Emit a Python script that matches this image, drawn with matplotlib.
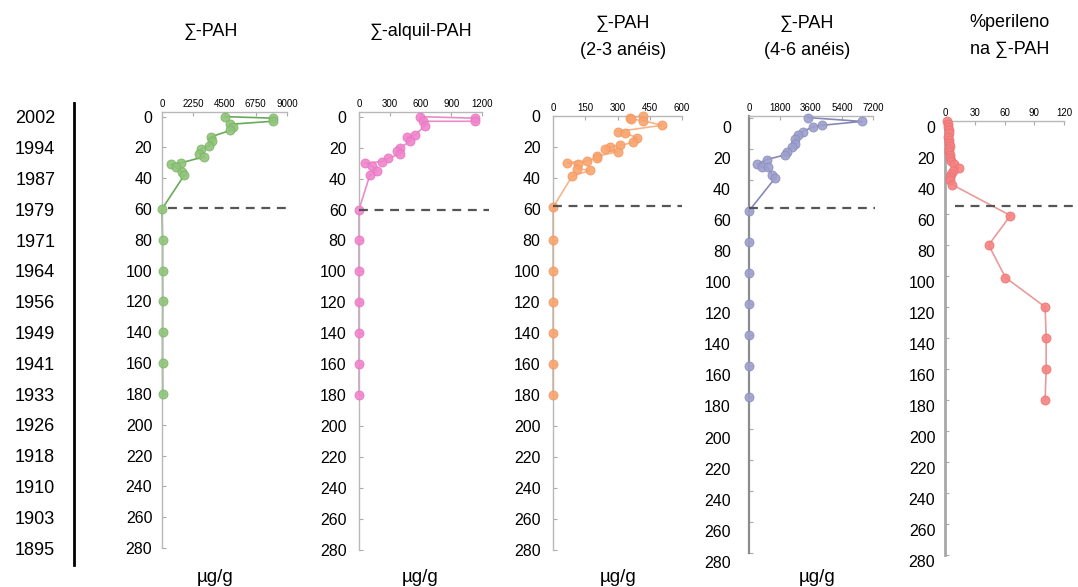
import matplotlib
matplotlib.use("Agg")
import matplotlib.pyplot as plt
import matplotlib.transforms as mtransforms

plt.rcParams['font.family'] = ['Liberation Sans', 'DejaVu Sans']

# ---------------- data ----------------
depth_ticks = [0, 20, 40, 60, 80, 100, 120, 140, 160, 180, 200, 220, 240, 260, 280]
years = ['2002', '1994', '1987', '1979', '1971', '1964', '1956', '1949',
         '1941', '1933', '1926', '1918', '1910', '1903', '1895']

titles = ['∑-PAH', '∑-alquil-PAH', '∑-PAH\n(2-3 anéis)', '∑-PAH\n(4-6 anéis)',
          '%perileno\nna ∑-PAH']
units = ['µg/g', 'µg/g', 'µg/g', 'µg/g', '']

x_ticks_pah = [0, 2250, 4500, 6750, 9000]
x_ticks_alq = [0, 300, 600, 900, 1200]
x_ticks_23 = [0, 150, 300, 450, 600]
x_ticks_46 = [0, 1800, 3600, 5400, 7200]
x_ticks_per = [0, 30, 60, 90, 120]

depth_pah = [0, 1, 3, 5, 7, 9, 13, 16, 19, 21, 24, 26, 30, 31, 33, 36, 38,
             60, 80, 100, 120, 140, 160, 180]
val_pah = [4500, 7990, 7990, 4860, 5100, 4900, 3560, 3630, 3410, 2830, 2690,
           3050, 1380, 650, 1020, 1450, 1600, 0, 40, 40, 50, 40, 40, 50]

depth_alq = [0, 1, 3, 3, 6, 12, 13, 16, 20, 22, 24, 27, 29, 30, 32, 35, 38,
             60, 80, 100, 120, 140, 160, 180]
val_alq = [595, 1130, 1130, 625, 640, 545, 470, 500, 400, 370, 400, 285, 225,
           60, 125, 175, 105, 0, 0, 0, 0, 0, 0, 0]

depth_23 = [0, 1, 2, 3, 6, 10, 11, 14, 17, 19, 20, 21, 23, 26, 27, 29, 30, 31,
            34, 35, 39, 59, 80, 100, 120, 140, 160, 180]
val_23 = [420, 358, 365, 420, 507, 302, 335, 390, 372, 312, 265, 242, 302, 204,
          205, 158, 65, 116, 112, 172, 88, 0, 0, 0, 0, 0, 0, 0]

depth_46 = [0, 2.5, 5, 6, 9, 11, 14, 17, 19, 22, 24, 27, 30, 32, 32, 37, 39,
            60, 80, 100, 120, 140, 160, 180]
val_46 = [3420, 6550, 4230, 3710, 3130, 2840, 2670, 2670, 2490, 2200, 2090,
          1040, 460, 750, 1100, 1330, 1510, 0, 0, 0, 0, 0, 0, 0]

depth_per = [0, 2, 4, 6, 8, 10, 12, 14, 16, 18, 20, 22, 24, 26, 28, 30, 32,
             34, 36, 38, 41, 61, 80, 101, 120, 140, 160, 180]
val_per = [2, 3, 3, 4, 4, 3, 4, 4, 5, 4, 4, 5, 5, 6, 9, 14, 8, 6, 5, 5, 7,
           66, 44, 61, 101, 102, 102, 101]

boundary_depth = [59, 60, 58, 58, 55]

# ---------------- layout ----------------
W, H = 1078, 587
fig = plt.figure(figsize=(W / 100, H / 100), dpi=100)


def box(l, r, t, b):
    return [l / W, 1 - b / H, (r - l) / W, (b - t) / H]


panels = [
    dict(box=(162, 287, 112, 548), ylim=(280, -3), xt=x_ticks_pah, d=depth_pah, v=val_pah,
         mfc='#8fc47a', mec='#79b363', lc='#6aa85a', pad=7, lab_off=0,
         dash=(0.05, 1.01), spine='#b8b8b8', slw=1.0),
    dict(box=(359, 482, 112, 550), ylim=(280, -3), xt=x_ticks_alq, d=depth_alq, v=val_alq,
         mfc='#f084cc', mec='#e873bf', lc='#ea8cc8', pad=9, lab_off=0,
         dash=(0.0, 1.06), spine='#b8b8b8', slw=1.0),
    dict(box=(553, 682, 116, 550), ylim=(280, 0), xt=x_ticks_23, d=depth_23, v=val_23,
         mfc='#f9a46e', mec='#f4955d', lc='#f7b48a', pad=9, lab_off=0,
         dash=(0.0, 1.0), spine='#b8b8b8', slw=1.0),
    dict(box=(749, 873, 116, 553), ylim=(280, -1), xt=x_ticks_46, d=depth_46, v=val_46,
         mfc='#9d9fcc', mec='#8a8cbc', lc='#8789b5', pad=13, lab_off=9,
         dash=(0.0, 1.02), spine='#8c8c8c', slw=1.6),
    dict(box=(945, 1064, 121, 555), ylim=(280, 0), xt=x_ticks_per, d=depth_per, v=val_per,
         mfc='#f58282', mec='#ee7070', lc='#eb9a9a', pad=7, lab_off=6,
         dash=(0.08, 1.12), spine='#a8a8a8', slw=2.0),
]

for i, p in enumerate(panels):
    ax = fig.add_axes(box(*p['box']))
    ax.set_ylim(*p['ylim'])
    ax.set_xlim(p['xt'][0], p['xt'][-1])
    ax.plot(p['v'], p['d'], '-', color=p['lc'], lw=1.2, zorder=2, clip_on=False)
    ax.plot(p['v'], p['d'], 'o', ms=6.5, mfc=p['mfc'], mec=p['mec'], mew=0.6,
            zorder=3, clip_on=False, alpha=0.9)
    ax.axhline(boundary_depth[i], xmin=p['dash'][0], xmax=p['dash'][1], color='#555555',
               lw=1.6, ls=(0, (4, 3)), zorder=4, clip_on=False)
    ax.xaxis.tick_top()
    ax.set_xticks(p['xt'])
    ax.set_xticklabels([str(t) for t in p['xt']], fontsize=7)
    ax.set_yticks(depth_ticks)
    ax.set_yticklabels([str(t) for t in depth_ticks], fontsize=11.5)
    ax.tick_params(axis='x', direction='in', length=3, width=0.8, color='#aaaaaa', pad=2)
    ax.tick_params(axis='y', direction='in', length=3, width=0.8, color='#aaaaaa',
                   pad=p['pad'])
    for s in ['right', 'bottom']:
        ax.spines[s].set_visible(False)
    ax.spines['top'].set_color('#b8b8b8')
    ax.spines['top'].set_linewidth(1.0)
    ax.spines['left'].set_color(p['spine'])
    ax.spines['left'].set_linewidth(p['slw'])
    ax.patch.set_alpha(0)
    if p['lab_off']:
        off = mtransforms.ScaledTranslation(0, -p['lab_off'] / 100, fig.dpi_scale_trans)
        for lab in ax.get_yticklabels():
            lab.set_transform(lab.get_transform() + off)

# year axis
axy = fig.add_axes(box(74, 90, 103, 565))
axy.set_ylim(291, -9)
axy.set_yticks(depth_ticks)
axy.set_yticklabels(years, fontsize=13)
axy.tick_params(axis='y', length=0, pad=13.5)
axy.set_xticks([])
for s in ['right', 'top', 'bottom']:
    axy.spines[s].set_visible(False)
axy.spines['left'].set_linewidth(2.0)
axy.spines['left'].set_color('black')
axy.patch.set_alpha(0)

# titles
title_pos = [(211, 32), (421, 32), (623, 37), (807, 37), (1010, 36)]
for t, (x, y) in zip(titles, title_pos):
    fig.text(x / W, 1 - y / H, t, ha='center', va='center', fontsize=13,
             linespacing=1.75)

unit_pos = [(215, 577), (420, 577), (618, 577), (817, 577), (1010, 577)]
for u, (x, y) in zip(units, unit_pos):
    if u:
        fig.text(x / W, 1 - y / H, u, ha='center', va='center', fontsize=13.5)

fig.savefig('out.png', dpi=100)
